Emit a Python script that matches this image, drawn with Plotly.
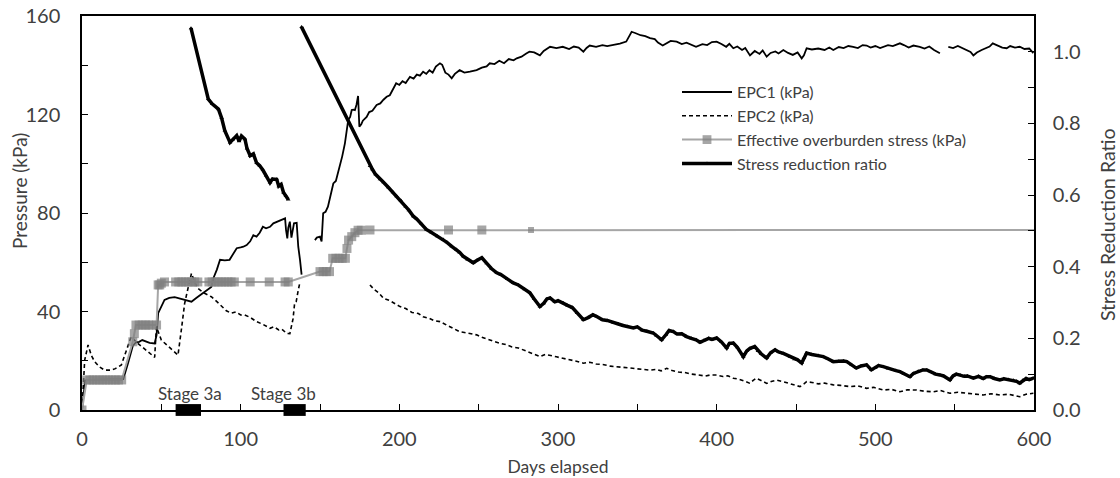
import plotly.graph_objects as go

# ---------------- data ----------------
epc1_days = [0, 1, 2, 5, 10, 15, 20, 26, 29, 32, 34, 36, 38, 40, 42.6, 45.8, 47, 48, 50, 52, 55, 58.4, 63, 66, 69,
             72, 76, 81.5, 82.8, 85, 87, 90, 93, 95, 97.5, 100, 101.7, 103.8, 106, 108, 110, 112, 114, 116, 118.5,
             120.6, 123, 125, 128, 128.6, 129.4, 130, 131, 132, 133.6, 135.3, 136.3, 137.4, 138.4, None,
             146.8, 148, 150, 151, 152, 153.5, 155, 157, 158.4, 160, 162.6, 164, 165.7, 167, 167.8, 169, 170, 171,
             172, 173, 174, 174.8, 176, 177, 179.4, 181, 183, 185.7, 188, 190, 192, 194, 196, 198, 200, 202, 204,
             206.7, 209, 211, 213, 215, 217, 219, 221, 223, 225.6, 227, 229, 231, 233, 235, 238, 241, 244.5,
             248.7, 252, 255, 257, 260, 263, 266, 269, 272, 274, 277, 280, 282, 285, 288.6, 291, 295, 299, 303,
             307, 310, 313, 316, 318, 320, 324, 328, 331, 335, 339, 343, 345, 346.4, 349, 352, 355, 358, 361, 363,
             366, 368, 371, 374.8, 378, 381, 384, 387, 391, 394, 397, 400, 403, 406, 408, 410.5, 413, 416, 418,
             421, 424, 427, 429, 431.5, 434, 437, 439, 442, 445, 448, 451, 453.6, 455, 456.7, 460, 464, 468, 471,
             473.5, 477, 480, 483, 486, 489, 492, 494.5, 497, 500, 503, 505, 508, 511, 515.5, 518, 521, 524, 528,
             531, 534, 537, 540.7, None, 546, 549, 552, 555, 557.6, 560, 561.8, 564, 567, 570, 572, 574, 577, 580,
             582.8, 585, 588, 591, 594, 597, 599.6]
epc1_kpa = [0, 6, 12, 12.2, 12.3, 12.2, 12.3, 12.5, 19, 26, 27.5, 27.7, 28.4, 27.8, 27.3, 27, 30.4, 39.3, 42, 44.7,
            45.5, 45.8, 45, 44.5, 44, 45.5, 47.5, 50, 53.5, 57, 61, 60.8, 61, 63, 65.7, 66, 66.3, 67, 68.5, 71, 70.4,
            72, 74.4, 73.8, 74.4, 75.8, 76.5, 76.8, 77.8, 73, 69.7, 74, 76.5, 70, 75.8, 76, 66.3, 61, 55, None,
            69, 70, 70.4, 68.4, 79.9, 80.5, 82.6, 88, 92, 93, 98.8, 103, 108.3, 114, 117.8, 119, 121.8, 122,
            121.8, 124, 127.5, 115, 116, 117.5, 119, 121, 121.5, 123.9, 124.5, 126, 127.2, 127.8, 130, 132.7, 132,
            133.5, 132.8, 135.3, 134.6, 136.2, 135.8, 137.4, 136.5, 138, 137, 139.5, 140.8, 140.2, 137, 136.2,
            134.7, 136.5, 138, 137, 137.4, 138, 139, 139.5, 140.8, 140.5, 141.8, 140.8, 142.5, 142, 142.8, 143.5,
            144.8, 145.5, 145.2, 144, 145.8, 147.5, 147, 147.5, 146.6, 147.6, 147.2, 145.5, 147, 148, 147.5, 148.2,
            147.8, 148.2, 148.8, 149.6, 152, 153.6, 153, 152.2, 151.8, 151, 150.6, 149.2, 148, 148.8, 149.9, 149.6,
            148.6, 149.2, 148.2, 147.5, 148.6, 148.2, 149.4, 149.6, 148.6, 147.5, 148.7, 146.9, 147.6, 146.2, 147,
            144, 145.8, 144.6, 146, 143.5, 145, 145.6, 144.8, 146.2, 145, 144.2, 145.2, 142.8, 144, 146.9, 146.4,
            146.8, 146.2, 147.2, 146.2, 147.4, 147, 147.8, 147.5, 147, 148.2, 148, 147.2, 147.8, 147, 147.5, 148.2,
            147.8, 148.9, 148.2, 147.2, 148, 147.5, 146.8, 147.6, 146.2, 144.9, None, 147.5, 147, 147.8, 146.8,
            146.2, 145.4, 144, 145.2, 146.2, 147, 147.6, 148.9, 148, 147.2, 146.9, 147.8, 147.2, 147.5, 146.6,
            146.8, 144.9]

epc2_days = [0, 1, 1.7, 3, 3.8, 6, 8, 11, 14.3, 18.5, 21, 24.8, 28, 31, 34, 36.5, 39.5, 43, 45.8, 46.9, 48.5, 50,
             55, 60.5, 62.5, 64.7, 67, 69, 71, 73, 77, 81.5, 85, 88, 91, 94, 97, 100, 102.5, 106, 110, 114, 118.5,
             121, 124, 126, 129, 131, 132, 133, 134, 135, 136.3, 137.4, None,
             181.5, 184, 187, 190, 194, 197, 200.4, 204, 208, 212, 215, 219, 222, 225.6, 229, 232, 235, 238, 241,
             244, 248.7, 252, 256, 260, 263.4, 267, 271, 275, 278, 281, 285, 288.6, 292, 295, 299, 303, 307, 311,
             316, 320, 324, 329, 333, 337, 341, 345, 350, 354, 358, 362, 365, 368.5, 372, 376, 380, 384, 389.5,
             393, 395.8, 400, 404, 407, 410.5, 414, 418, 421, 423, 425, 428, 431.5, 435, 438, 442, 446, 449,
             452.5, 455, 456.7, 460, 464, 468, 473.5, 478, 484, 489, 494.5, 499, 505, 510, 515.5, 520, 526, 531,
             536.5, 541, 547, 552, 557.6, 562, 568, 573, 578.5, 584, 588, 591, 595, 599.6]
epc2_kpa = [0, 12, 20.3, 24, 26.4, 22, 19.6, 17.5, 16.2, 16.2, 16.8, 18.3, 24, 29.8, 27.7, 26.3, 25, 23, 21.4, 33.8,
            31, 28.4, 25.5, 22.3, 32, 43.3, 50, 55.5, 52, 49.4, 47.5, 46, 44, 42, 40.3, 39.3, 39.8, 38.6, 38.6,
            37.6, 35.9, 34.8, 33.2, 33.8, 32.5, 32.8, 31.1, 31, 33.8, 37, 43.3, 44, 48.7, 52, None,
            50.8, 49, 47.6, 45.4, 44.4, 43.2, 42, 41.2, 39.6, 39.2, 37.9, 37.2, 36.3, 35.9, 34.8, 33.8, 32.6, 31.8,
            31.5, 31.2, 30.5, 29.5, 28.6, 27.9, 27.1, 26.6, 25.6, 25.2, 24.4, 23.8, 22.8, 21.7, 22.6, 22.3, 21.6,
            21, 20.6, 19.9, 19, 19.4, 18.7, 18.4, 17.8, 17.6, 17.5, 17.1, 16.7, 16.6, 16.2, 16.5, 15.9, 16.9, 16,
            15.4, 15.2, 14.6, 14.2, 13.8, 14.2, 14.2, 13.6, 13.9, 12.9, 12.5, 11.6, 10.8, 12, 12.9, 12, 10.8, 11.7,
            12.1, 11.5, 10.8, 10.4, 9.5, 10.6, 11.5, 11.2, 10.6, 10.9, 10.2, 10, 9.5, 9.8, 8.8, 9.2, 8.1, 8.4, 7.4,
            8.2, 8.1, 7.6, 7.4, 7.9, 6.8, 7.2, 6.8, 6.6, 6.1, 6.6, 6.1, 6.4, 5.9, 5.4, 6.4, 6.8]

overburden_days = [0, 3, 5, 7, 9, 11, 13, 15, 17, 19, 21, 23, 25, 32, 33, 34, 36, 38, 40, 42, 44, 47, 48, 49, 50, 52,
                   59, 61, 63, 65, 67, 69, 71, 73, 80, 82, 84, 86, 88, 90, 92, 94, 96, 106, 118, 128, 130,
                   150, 152, 154, 156, 158, 160, 162, 164, 166, 167, 168, 170, 172, 174, 176, 181.5, 231, 252, 283, 600]
overburden_kpa = [0, 12.2, 12.2, 12.2, 12.2, 12.2, 12.2, 12.2, 12.2, 12.2, 12.2, 12.2, 12.2, 27.7, 31, 34.5, 34.5,
                  34.5, 34.5, 34.5, 34.5, 34.5, 50.8, 50.8, 51.5, 52, 52, 52, 52, 52, 52, 52, 52, 52, 52, 52, 52, 52,
                  52, 52, 52, 52, 52, 52, 52, 52, 52, 56.2, 56.2, 56.2, 56.2, 61.6, 61.6, 61.6, 61.6, 61.6, 65.6, 69,
                  70.4, 72, 73, 73, 73.1, 73.1, 73.1, 73.1, 73.1]

ratio_days = [68.7, 79.6, 82, 86, 88, 90, 93.3, 95, 97.5, 99, 100.5, 102.7, 104, 106, 108, 110, 112, 114, 116, 118.5,
              120, 122.7, 124, 125.5, 127, 128.5, 130, None,
              138.4, 181.5, 183, 185, 187.8, 190, 193, 196, 198.3, 201, 204, 206, 208.8, 211, 214, 217, 220, 224,
              227.7, 230, 233, 236, 238, 240.3, 243, 246.6, 249, 252, 255, 258, 261.4, 264, 268, 271.8, 275, 279,
              282.3, 285, 288.6, 291, 293, 295, 298, 300, 303.3, 306, 309, 312, 316, 319, 322, 324.4, 328, 331,
              335, 338, 341, 344, 347.5, 350, 353, 356, 360, 362, 365.3, 368, 370, 372.7, 375, 378, 381, 384, 387,
              389.5, 392, 395, 397, 400, 403, 406.3, 408, 410.5, 413, 416.8, 419, 421, 424, 426, 428, 431.5, 434,
              436.8, 439, 442, 446.2, 449, 451, 453.6, 455, 456.7, 460, 464, 467.2, 470, 473.5, 477, 480, 482,
              485, 488, 491, 494.5, 497.5, 500, 502, 505, 508, 511, 513, 515.5, 518, 521.8, 524, 527, 530, 532.4,
              535, 538, 540.7, 543, 547, 549, 551, 553.4, 556, 558, 561.8, 565, 568, 570, 572.3, 575, 578.5, 581,
              584, 587, 589, 591, 593, 595, 597, 599.6]
ratio_vals = [1.066, 0.868, 0.855, 0.840, 0.815, 0.78, 0.747, 0.755, 0.766, 0.75, 0.765, 0.756, 0.73, 0.710, 0.715,
              0.69, 0.682, 0.67, 0.655, 0.635, 0.645, 0.644, 0.625, 0.63, 0.607, 0.598, 0.588, None,
              1.069, 0.681, 0.672, 0.658, 0.644, 0.636, 0.622, 0.608, 0.597, 0.585, 0.568, 0.558, 0.541, 0.533,
              0.52, 0.504, 0.496, 0.485, 0.476, 0.468, 0.457, 0.448, 0.44, 0.429, 0.42, 0.411, 0.418, 0.425, 0.41,
              0.395, 0.383, 0.378, 0.366, 0.355, 0.349, 0.337, 0.327, 0.31, 0.289, 0.298, 0.31, 0.313, 0.302,
              0.305, 0.299, 0.292, 0.286, 0.271, 0.252, 0.258, 0.266, 0.261, 0.252, 0.25, 0.243, 0.24, 0.236,
              0.233, 0.229, 0.232, 0.223, 0.22, 0.215, 0.208, 0.196, 0.21, 0.222, 0.219, 0.212, 0.213, 0.205, 0.2,
              0.196, 0.189, 0.195, 0.2, 0.197, 0.201, 0.19, 0.173, 0.186, 0.187, 0.175, 0.149, 0.165, 0.172, 0.177,
              0.165, 0.157, 0.145, 0.16, 0.168, 0.162, 0.158, 0.149, 0.142, 0.14, 0.131, 0.145, 0.159, 0.155,
              0.152, 0.149, 0.143, 0.135, 0.136, 0.137, 0.135, 0.126, 0.117, 0.123, 0.126, 0.112, 0.118, 0.124,
              0.121, 0.116, 0.112, 0.11, 0.107, 0.101, 0.093, 0.102, 0.108, 0.112, 0.112, 0.106, 0.1, 0.098,
              0.095, 0.084, 0.095, 0.1, 0.098, 0.094, 0.095, 0.089, 0.094, 0.088, 0.093, 0.093, 0.088, 0.084,
              0.087, 0.085, 0.083, 0.08, 0.075, 0.083, 0.088, 0.085, 0.089]

stage_names = ["Stage 3a", "Stage 3b"]
stage_start = [59, 127]
stage_end = [75, 141]
stage_label_day = [68, 127]

# ---------------- figure ----------------
FONT = "Lato, 'Open Sans', sans-serif"
TXT = "#404040"

fig = go.Figure()

fig.add_trace(go.Scatter(x=epc1_days, y=epc1_kpa, name="EPC1 (kPa)", mode="lines",
                         line=dict(color="black", width=1.8), connectgaps=False))
fig.add_trace(go.Scatter(x=epc2_days, y=epc2_kpa, name="EPC2 (kPa)", mode="lines",
                         line=dict(color="black", width=1.6, dash="4px,3px"), connectgaps=False))
ob_sizes = [9 if d < 280 else (6 if d < 300 else 0) for d in overburden_days]
fig.add_trace(go.Scatter(x=overburden_days, y=overburden_kpa, name="Effective overburden stress (kPa)",
                         mode="lines+markers",
                         line=dict(color="#a6a6a6", width=2),
                         marker=dict(symbol="square", size=ob_sizes, color="#808080",
                                     line=dict(width=0))))
fig.add_trace(go.Scatter(x=ratio_days, y=ratio_vals, name="Stress reduction ratio", mode="lines+markers",
                         yaxis="y2", line=dict(color="black", width=3.5), connectgaps=False,
                         marker=dict(symbol="triangle-up", size=4, color="black")))

for s0, s1 in zip(stage_start, stage_end):
    fig.add_shape(type="rect", xref="x", yref="paper", x0=s0, x1=s1, y0=-0.015, y1=0.015,
                  fillcolor="black", line=dict(width=0), layer="above")
for name, d in zip(stage_names, stage_label_day):
    fig.add_annotation(x=d, y=6.8, xref="x", yref="y", text=name, showarrow=False,
                       font=dict(family=FONT, size=17, color=TXT))

# axis titles placed as in the reference
fig.add_annotation(text="Pressure (kPa)", xref="paper", yref="paper", x=-0.0651, y=0.556,
                   textangle=-90, showarrow=False, xanchor="center", yanchor="middle",
                   font=dict(family=FONT, size=19, color=TXT))
fig.add_annotation(text="Stress Reduction Ratio", xref="paper", yref="paper", x=1.0767, y=0.4695,
                   textangle=-90, showarrow=False, xanchor="center", yanchor="middle",
                   font=dict(family=FONT, size=19.5, color=TXT))

fig.update_layout(
    width=1120, height=478,
    margin=dict(l=82, r=86, t=16, b=68),
    paper_bgcolor="white", plot_bgcolor="white",
    font=dict(family=FONT, size=20, color=TXT),
    showlegend=True,
    legend=dict(x=0.625, y=0.85, xanchor="left", yanchor="top",
                bgcolor="rgba(0,0,0,0)", font=dict(family=FONT, size=16, color=TXT),
                itemwidth=50),
    xaxis=dict(range=[0, 600], dtick=100, tick0=0, showgrid=False, zeroline=False,
               showline=True, linecolor="black", linewidth=1.5, mirror=True,
               ticks="inside", ticklen=6, tickcolor="black",
               minor=dict(dtick=50, ticks="inside", ticklen=6, tickcolor="black"),
               ticklabelstandoff=10, tickfont=dict(size=20),
               title=dict(text="Days elapsed", standoff=12, font=dict(size=17.5, color=TXT)),
               automargin=False),
    yaxis=dict(range=[0, 160], dtick=40, showgrid=False, zeroline=False,
               showline=True, linecolor="black", linewidth=1.5,
               ticks="inside", ticklen=6, tickcolor="black",
               minor=dict(dtick=20, ticks="inside", ticklen=6, tickcolor="black"),
               ticklabelstandoff=16, tickfont=dict(size=20),
               automargin=False),
    yaxis2=dict(range=[0, 1.1], dtick=0.2, tickformat=".1f", overlaying="y", side="right",
                showgrid=False, zeroline=False,
                showline=True, linecolor="black", linewidth=1.5,
                ticks="inside", ticklen=6, tickcolor="black",
                minor=dict(dtick=0.1, ticks="inside", ticklen=6, tickcolor="black"),
                ticklabelstandoff=13, tickfont=dict(size=20),
                automargin=False),
)

fig.write_html("out.html")
